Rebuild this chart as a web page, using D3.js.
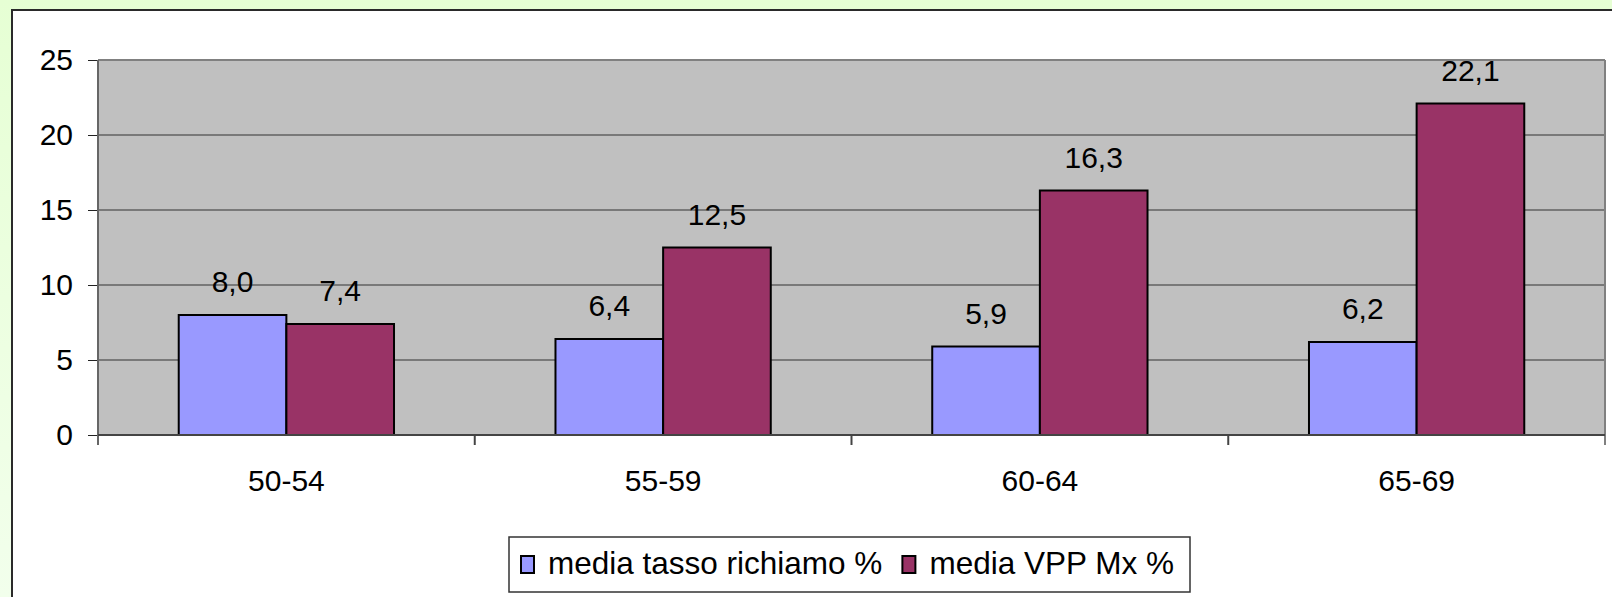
<!DOCTYPE html>
<html>
<head>
<meta charset="utf-8">
<script src="https://cdn.jsdelivr.net/npm/d3@7"></script>
<style>
  html, body { margin: 0; padding: 0; overflow: hidden; }
  body { width: 1612px; height: 597px; }
  text { font-family: "Liberation Sans", Arial, sans-serif; fill: #000; }
</style>
</head>
<body>
<svg id="chart" width="1612" height="597"></svg>
<script>
const categories = ["50-54", "55-59", "60-64", "65-69"];
const seriesNames = ["media tasso richiamo %", "media VPP Mx %"];
const richiamo = [8.0, 6.4, 5.9, 6.2];
const vpp = [7.4, 12.5, 16.3, 22.1];
const yTicks = [0, 5, 10, 15, 20, 25];
const seriesColors = ["#9999FF", "#993366"];

(function () {
const svg = d3.select("#chart");
const W = 1612, H = 597;

// background
const defs = svg.append("defs");
const grad = defs.append("linearGradient").attr("id", "bg").attr("x1", 0).attr("y1", 0).attr("x2", 0).attr("y2", 1);
grad.append("stop").attr("offset", "0%").attr("stop-color", "#E6FFD4");
grad.append("stop").attr("offset", "100%").attr("stop-color", "#F2FFEC");
svg.append("rect").attr("width", W).attr("height", H).attr("fill", "url(#bg)");

// white panel
svg.append("rect").attr("x", 12).attr("y", 10).attr("width", W + 20).attr("height", H + 20)
  .attr("fill", "#fff").attr("stroke", "#2a2a2a").attr("stroke-width", 2);

const pL = 98, pR = 1605, pT = 60, pB = 435;

const x = d3.scaleBand().domain(categories).range([pL, pR]).paddingInner(0).paddingOuter(0);
const y = d3.scaleLinear().domain([0, 25]).range([pB, pT]);

const barW = x.bandwidth() / 3.5;
const off = (x.bandwidth() - 2 * barW) / 2;
const x1 = d3.scaleBand().domain(seriesNames).range([off, off + 2 * barW]);

// plot area
svg.append("rect").attr("x", pL).attr("y", pT).attr("width", pR - pL).attr("height", pB - pT)
  .attr("fill", "#C0C0C0");

// gridlines
svg.append("g").selectAll("line").data(yTicks.filter(t => t > 0 && t < 25)).join("line")
  .attr("x1", pL).attr("x2", pR)
  .attr("y1", d => y(d)).attr("y2", d => y(d))
  .attr("stroke", "#333").attr("stroke-width", 1);

// plot border top and right
svg.append("line").attr("x1", pL).attr("x2", pR).attr("y1", pT).attr("y2", pT)
  .attr("stroke", "#808080").attr("stroke-width", 2);
svg.append("line").attr("x1", pR).attr("x2", pR).attr("y1", pT).attr("y2", pB + 10)
  .attr("stroke", "#808080").attr("stroke-width", 2);

// bars
const fmt = d3.formatLocale({decimal: ",", thousands: ".", grouping: [3], currency: ["", "€"]}).format(".1f");
const data = [];
categories.forEach((c, i) => {
  data.push({c, s: seriesNames[0], v: richiamo[i], color: seriesColors[0]});
  data.push({c, s: seriesNames[1], v: vpp[i], color: seriesColors[1]});
});

svg.append("g").selectAll("rect").data(data).join("rect")
  .attr("x", d => x(d.c) + x1(d.s))
  .attr("y", d => y(d.v))
  .attr("width", x1.bandwidth())
  .attr("height", d => y(0) - y(d.v))
  .attr("fill", d => d.color)
  .attr("stroke", "#000").attr("stroke-width", 2);

svg.append("g").selectAll("text").data(data).join("text")
  .attr("x", d => x(d.c) + x1(d.s) + x1.bandwidth() / 2)
  .attr("y", d => y(d.v) - 23)
  .attr("text-anchor", "middle")
  .attr("font-size", 30)
  .text(d => fmt(d.v));

// y axis
const yAxis = svg.append("g").attr("transform", `translate(${pL},0)`)
  .call(d3.axisLeft(y).tickValues(yTicks).tickSize(10).tickPadding(15).tickFormat(d3.format("d")));
yAxis.select(".domain").remove();
yAxis.selectAll(".tick line").attr("stroke", "#222").attr("stroke-width", 1);
yAxis.selectAll("text").attr("font-size", 30).attr("font-family", "Liberation Sans, Arial, sans-serif");
svg.append("line").attr("x1", pL).attr("x2", pL).attr("y1", pT).attr("y2", pB + 10)
  .attr("stroke", "#666").attr("stroke-width", 2);

// x axis
const xAxis = svg.append("g").attr("transform", `translate(0,${pB})`)
  .call(d3.axisBottom(x).tickSize(0).tickPadding(0));
xAxis.select(".domain").remove();
xAxis.selectAll("text").attr("font-size", 30).attr("y", 56).attr("dy", 0)
  .attr("font-family", "Liberation Sans, Arial, sans-serif");
const boundaries = categories.slice(1).map(c => x(c));
svg.append("g").selectAll("line").data(boundaries).join("line")
  .attr("x1", d => d).attr("x2", d => d).attr("y1", pB).attr("y2", pB + 10)
  .attr("stroke", "#444").attr("stroke-width", 2);
svg.append("line").attr("x1", pL).attr("x2", pR).attr("y1", pB).attr("y2", pB)
  .attr("stroke", "#444").attr("stroke-width", 2);

// legend
const lg = svg.append("g");
lg.append("rect").attr("x", 509).attr("y", 537).attr("width", 681).attr("height", 55)
  .attr("fill", "#fff").attr("stroke", "#333").attr("stroke-width", 1.5);
let lx = 521;
seriesNames.forEach((s, i) => {
  lg.append("rect").attr("x", lx).attr("y", 556).attr("width", 13).attr("height", 17)
    .attr("fill", seriesColors[i]).attr("stroke", "#000").attr("stroke-width", 2);
  const t = lg.append("text").attr("x", lx + 27).attr("y", 574).attr("font-size", 31.5).text(s);
  lx = lx + 27 + t.node().getComputedTextLength() + 20;
});
})();
</script>
</body>
</html>
